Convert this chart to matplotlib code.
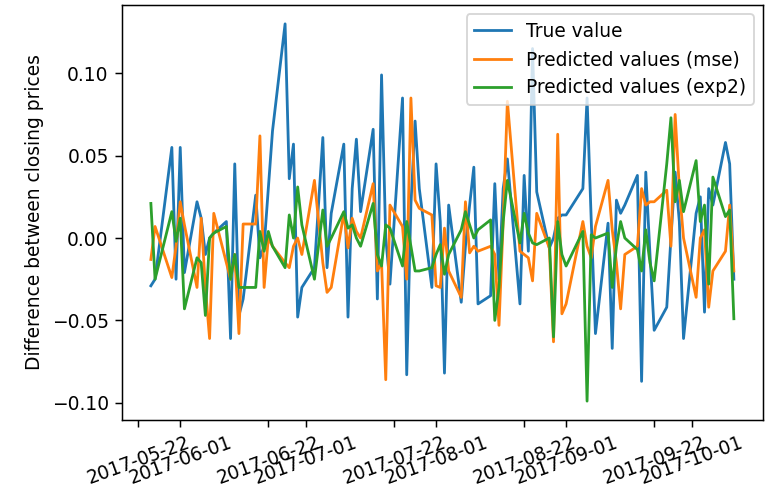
import matplotlib
matplotlib.use("Agg")
import matplotlib.pyplot as plt
import matplotlib.dates as mdates
import pandas as pd

# Trading days (US market holidays excluded)
start_date = "2017-05-25"
end_date = "2017-10-11"
holidays = ["2017-05-29", "2017-07-04", "2017-09-04"]

true_value = [
    -0.029, -0.025, 0.055, -0.025, 0.055, -0.021, 0.022, 0.012, -0.010, 0.000,
    0.003, 0.010, -0.061, 0.045, -0.047, -0.037, 0.026, -0.012, -0.005, 0.030,
    0.065, 0.130, 0.036, 0.057, -0.048, -0.030, -0.018, 0.061, -0.018, 0.015,
    0.057, -0.048, 0.030, 0.060, 0.016, 0.066, -0.037, 0.099, 0.000, -0.028,
    0.085, -0.083, 0.020, 0.071, 0.030, -0.030, 0.045, 0.010, -0.082, 0.020,
    -0.039, -0.005, 0.020, 0.043, -0.040, -0.035, 0.033, -0.025, 0.030, 0.048,
    -0.040, 0.038, -0.008, 0.115, 0.028, -0.006, 0.000, 0.012, 0.014, 0.014,
    0.030, 0.085, 0.010, -0.058, 0.009, -0.067, 0.023, 0.015, 0.020, 0.038,
    -0.087, 0.040, -0.010, -0.056, -0.042, 0.000, 0.040, 0.010, -0.061, 0.015,
    0.025, -0.045, 0.030, 0.020, 0.058, 0.045, -0.025,
]

pred_mse = [
    -0.013, 0.007, -0.024, -0.005, 0.022, 0.008, -0.030, 0.012, -0.030, -0.061,
    0.015, -0.015, -0.025, -0.010, -0.058, 0.0085, 0.0085, 0.062, -0.030, 0.000,
    -0.005, -0.015, -0.018, -0.005, 0.000, -0.010, 0.035, -0.015, -0.033, -0.030,
    0.015, -0.006, 0.012, 0.004, 0.000, 0.033, -0.020, -0.015, -0.086, 0.020,
    0.007, -0.025, 0.085, 0.023, 0.018, 0.014, -0.029, -0.030, 0.006, -0.020,
    -0.036, 0.022, -0.009, -0.005, -0.008, -0.005, -0.010, -0.053, 0.010, 0.083,
    -0.008, -0.010, -0.012, -0.026, 0.015, -0.006, -0.063, 0.063, -0.046, -0.040,
    0.010, -0.005, -0.012, 0.007, 0.035, 0.005, -0.015, -0.043, -0.010, -0.005,
    0.030, 0.020, 0.022, 0.022, 0.029, -0.005, 0.075, 0.030, 0.000, -0.036,
    0.000, 0.005, -0.042, -0.020, -0.008, 0.020, -0.020,
]

pred_exp2 = [
    0.021, -0.025, 0.016, -0.002, 0.012, -0.043, -0.012, -0.015, -0.047, 0.000,
    0.003, 0.007, -0.025, -0.010, -0.030, -0.030, -0.030, 0.004, -0.008, 0.004,
    -0.005, -0.018, 0.014, 0.000, 0.031, 0.008, -0.025, 0.017, -0.005, 0.000,
    0.016, 0.006, 0.008, 0.000, -0.005, 0.021, -0.010, -0.017, 0.008, 0.006,
    -0.017, 0.010, -0.005, -0.020, -0.020, -0.018, -0.010, -0.004, -0.022, -0.010,
    0.005, 0.016, 0.008, 0.000, 0.005, 0.011, -0.050, -0.030, 0.010, 0.035,
    -0.003, 0.015, 0.003, -0.003, -0.004, 0.000, -0.060, 0.010, -0.010, -0.017,
    0.004, -0.099, 0.002, 0.000, 0.003, -0.030, -0.005, 0.010, 0.000, -0.007,
    -0.020, 0.005, -0.015, -0.026, 0.045, 0.073, 0.022, 0.035, 0.016, 0.047,
    0.010, 0.020, -0.028, 0.037, 0.013, 0.017, -0.049,
]

labels = ["True value", "Predicted values (mse)", "Predicted values (exp2)"]
y_label = "Difference between closing prices"

dates = pd.bdate_range(start_date, end_date, freq="C", holidays=holidays).to_pydatetime()

DPI = 134
fig = plt.figure(figsize=(767 / DPI, 490 / DPI), dpi=DPI)
ax = fig.add_axes([0.1587, 0.1429, 0.8361, 0.8469])
ax.plot(dates, true_value, label=labels[0])
ax.plot(dates, pred_mse, label=labels[1])
ax.plot(dates, pred_exp2, label=labels[2])
ax.set_ylabel(y_label)
ax.xaxis.set_major_locator(mdates.DayLocator(bymonthday=[1, 22]))
ax.xaxis.set_major_formatter(mdates.DateFormatter("%Y-%m-%d"))
ax.legend(loc="upper right")
plt.setp(ax.get_xticklabels(), rotation=20)
fig.savefig("out.png", dpi=DPI)
